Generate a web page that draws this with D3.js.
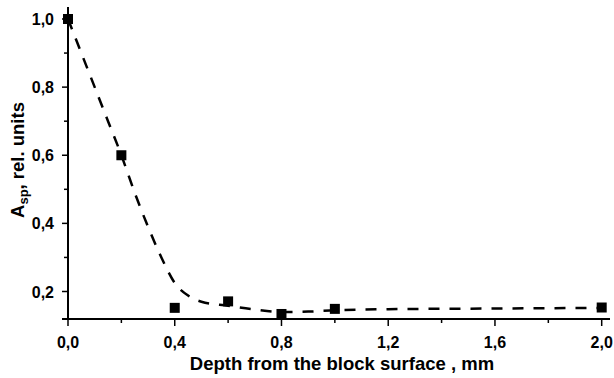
<!DOCTYPE html>
<html>
<head>
<meta charset="utf-8">
<script src="https://cdn.jsdelivr.net/npm/d3@7"></script>
<style>
  body { margin: 0; background: #fff; }
  text { font-family: "Liberation Sans", Arial, sans-serif; font-weight: bold; fill: #000; }
</style>
</head>
<body>
<svg id="chart" width="614" height="378"></svg>
<script>
// measured points
var depth = [0, 0.2, 0.4, 0.6, 0.8, 1.0, 2.0];
var asp = [1.0, 0.6, 0.152, 0.171, 0.134, 0.149, 0.153];

// dashed fit curve
var fitDepth = [0, 0.05, 0.1, 0.15, 0.2, 0.25, 0.3, 0.35, 0.4, 0.45, 0.5, 0.6, 0.7, 0.8, 0.9, 1.0, 1.2, 1.6, 2.0];
var fitAsp = [1.0, 0.9, 0.8, 0.7, 0.6, 0.49, 0.39, 0.3, 0.225, 0.188, 0.17, 0.158, 0.147, 0.14, 0.141, 0.145, 0.148, 0.15, 0.152];

var xTicks = [0, 0.4, 0.8, 1.2, 1.6, 2.0];
var xMinor = [0.2, 0.6, 1.0, 1.4, 1.8];
var yTicks = [0.2, 0.4, 0.6, 0.8, 1.0];
var yMinor = [0.3, 0.5, 0.7, 0.9];

var svg = d3.select('#chart');
var plotLeft = 68, plotRight = 601.7, plotTop = 19, plotBottom = 319;

var x = d3.scaleLinear().domain([0, 2]).range([plotLeft, plotRight]);
var y = d3.scaleLinear().domain([0.2, 1.0]).range([291.5, plotTop]);

var fmt = function(d) { return d3.format('.1f')(d).replace('.', ','); };

// axes lines
svg.append('line')
    .attr('x1', plotLeft - 6).attr('x2', 610)
    .attr('y1', plotBottom).attr('y2', plotBottom)
    .attr('stroke', '#000').attr('stroke-width', 2);
svg.append('line')
    .attr('x1', plotLeft).attr('x2', plotLeft)
    .attr('y1', 7).attr('y2', plotBottom)
    .attr('stroke', '#000').attr('stroke-width', 2);

// x ticks
var xAxis = svg.append('g');
xAxis.selectAll('.maj').data(xTicks).enter().append('line')
    .attr('x1', function(d) { return x(d); }).attr('x2', function(d) { return x(d); })
    .attr('y1', plotBottom).attr('y2', plotBottom + 7)
    .attr('stroke', '#000').attr('stroke-width', 1.5);
xAxis.selectAll('.min').data(xMinor).enter().append('line')
    .attr('x1', function(d) { return x(d); }).attr('x2', function(d) { return x(d); })
    .attr('y1', plotBottom).attr('y2', plotBottom + 4)
    .attr('stroke', '#000').attr('stroke-width', 1.5);
xAxis.selectAll('text').data(xTicks).enter().append('text')
    .attr('x', function(d) { return x(d); })
    .attr('y', 348)
    .attr('text-anchor', 'middle')
    .style('font-size', '16px')
    .text(fmt);

// y ticks
var yAxis = svg.append('g');
yAxis.selectAll('.maj').data(yTicks).enter().append('line')
    .attr('x1', plotLeft - 6).attr('x2', plotLeft)
    .attr('y1', function(d) { return y(d); }).attr('y2', function(d) { return y(d); })
    .attr('stroke', '#000').attr('stroke-width', 1.5);
yAxis.selectAll('.min').data(yMinor).enter().append('line')
    .attr('x1', plotLeft - 4).attr('x2', plotLeft)
    .attr('y1', function(d) { return y(d); }).attr('y2', function(d) { return y(d); })
    .attr('stroke', '#000').attr('stroke-width', 1.5);
yAxis.selectAll('text').data(yTicks).enter().append('text')
    .attr('x', 54)
    .attr('y', function(d) { return y(d) + 6; })
    .attr('text-anchor', 'end')
    .style('font-size', '16px')
    .text(fmt);

// axis titles
svg.append('text')
    .attr('x', 342).attr('y', 370)
    .attr('text-anchor', 'middle')
    .style('font-size', '18.5px')
    .text('Depth from the block surface , mm');

var yt = svg.append('text')
    .attr('transform', 'translate(24,160) rotate(-90)')
    .attr('text-anchor', 'middle')
    .style('font-size', '18.5px');
yt.append('tspan').text('A');
yt.append('tspan').attr('dy', 4).style('font-size', '13px').text('sp');
yt.append('tspan').attr('dy', -4).text(', rel. units');

// fit curve
var line = d3.line()
    .x(function(d, i) { return x(fitDepth[i]); })
    .y(function(d) { return y(d); })
    .curve(d3.curveMonotoneX);
svg.append('path')
    .datum(fitAsp)
    .attr('d', line)
    .attr('fill', 'none')
    .attr('stroke', '#000')
    .attr('stroke-width', 2.5)
    .attr('stroke-dasharray', '11,10');

// markers
svg.selectAll('.pt').data(asp).enter().append('rect')
    .attr('x', function(d, i) { return x(depth[i]) - 5; })
    .attr('y', function(d) { return y(d) - 5; })
    .attr('width', 10).attr('height', 10)
    .attr('fill', '#000');
</script>
</body>
</html>
